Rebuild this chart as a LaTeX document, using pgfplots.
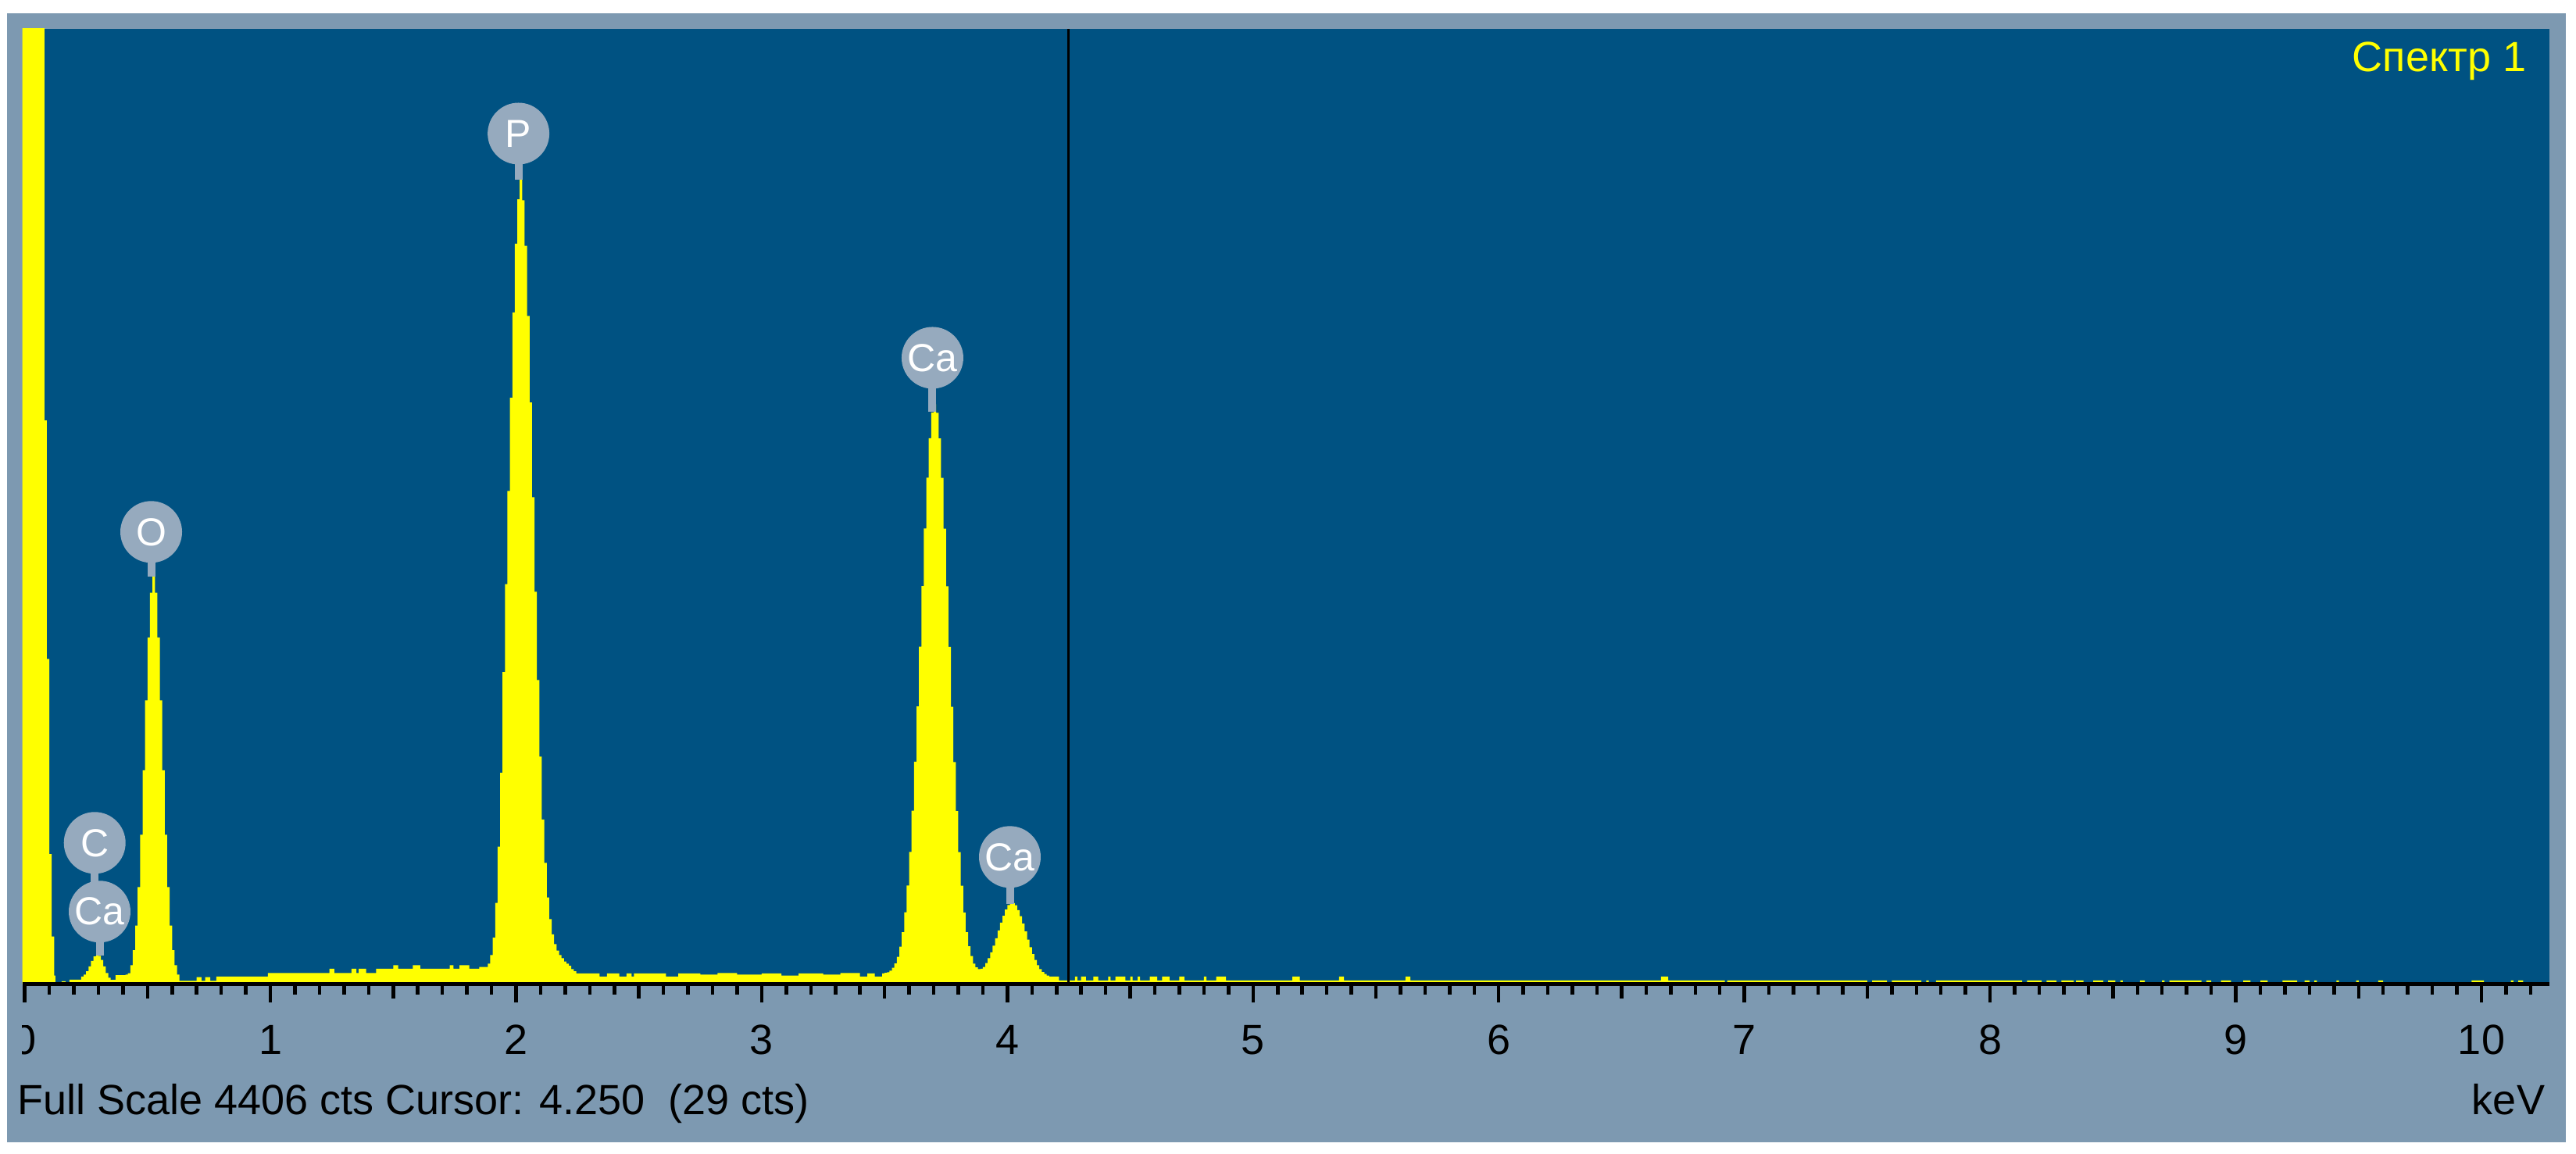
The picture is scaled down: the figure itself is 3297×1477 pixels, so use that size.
\documentclass[border=0pt]{standalone}
\usepackage{fontspec}
\setmainfont{Liberation Sans}
\usepackage{trimclip}
\usepackage{pgfplots}
\pgfplotsset{compat=1.18}

\definecolor{plotblue}{RGB}{0,82,130}
\definecolor{framegray}{RGB}{125,153,177}
\definecolor{labgray}{RGB}{150,170,190}
\definecolor{specyellow}{RGB}{255,255,0}

\tikzset{
  elab/.style={circle, fill=labgray, text=white, minimum size=15.8bp, inner sep=0pt,
               font=\fontsize{10bp}{12bp}\selectfont},
  stem/.style={labgray, line width=2bp},
}

% EDS spectrum: x = energy (keV), y = counts, bins start at x
\pgfplotstableread{
x y
-0.05 6000
0.08 2600
0.09 1500
0.10 600
0.11 220
0.12 40
0.125 0
0.15 14
0.166 0
0.182 21
0.23 36
0.24 45
0.25 60
0.26 82
0.27 108
0.28 128
0.29 133
0.30 131
0.31 112
0.32 82
0.33 52
0.34 30
0.35 20
0.37 42
0.41 45
0.42 51
0.43 88
0.44 157
0.45 271
0.46 448
0.47 690
0.48 987
0.49 1309
0.50 1599
0.51 1806
0.52 1880
0.53 1806
0.54 1599
0.55 1309
0.56 987
0.57 690
0.58 448
0.59 271
0.60 157
0.61 88
0.62 45
0.63 16
0.70 33
0.72 16
0.735 33
0.755 16
0.78 36
0.99 52
1.24 72
1.26 52
1.33 72
1.35 52
1.36 72
1.39 52
1.43 72
1.50 88
1.52 72
1.58 88
1.61 72
1.73 88
1.745 72
1.77 88
1.81 72
1.85 80
1.875 80
1.885 95
1.895 135
1.905 215
1.915 375
1.925 635
1.935 975
1.945 1440
1.955 1845
1.965 2275
1.975 2705
1.985 3098
1.995 3415
2.005 3620
2.015 3710
2.025 3615
2.035 3405
2.045 3082
2.055 2683
2.065 2246
2.075 1810
2.085 1403
2.095 1050
2.105 760
2.115 560
2.125 400
2.135 300
2.145 230
2.155 185
2.165 155
2.175 135
2.185 120
2.195 105
2.205 95
2.215 85
2.225 70
2.235 60
2.245 50
2.34 36
2.37 50
2.42 36
2.45 50
2.47 36
2.48 50
2.61 36
2.66 50
2.75 45
2.82 52
2.90 45
3.00 50
3.08 40
3.15 50
3.25 45
3.32 52
3.40 36
3.43 50
3.46 36
3.49 50
3.50 53
3.51 55
3.52 63
3.53 76
3.54 96
3.55 127
3.56 173
3.57 240
3.58 332
3.59 455
3.60 610
3.61 800
3.62 1026
3.63 1281
3.64 1557
3.65 1836
3.66 2102
3.67 2336
3.68 2518
3.69 2636
3.70 2675
3.71 2635
3.72 2517
3.73 2335
3.74 2101
3.75 1835
3.76 1556
3.77 1280
3.78 1025
3.79 799
3.80 609
3.81 454
3.82 331
3.83 240
3.84 175
3.85 130
3.86 95
3.87 78
3.88 70
3.89 72
3.90 80
3.91 98
3.92 120
3.93 147
3.94 178
3.95 212
3.96 248
3.97 284
3.98 316
3.99 345
4.00 365
4.01 375
4.02 374
4.03 364
4.04 342
4.05 314
4.06 280
4.07 244
4.08 206
4.09 171
4.10 139
4.11 112
4.12 88
4.13 70
4.14 56
4.15 47
4.16 40
4.17 36
4.21 18
4.275 36
4.285 18
4.30 36
4.32 18
4.35 36
4.37 18
4.41 36
4.42 18
4.44 36
4.48 18
4.50 36
4.51 18
4.53 36
4.54 18
4.58 36
4.61 18
4.63 36
4.66 18
4.70 36
4.72 18
4.80 36
4.81 18
4.85 36
4.89 18
5.16 36
5.19 18
5.35 36
5.37 18
5.62 36
5.64 18
6.66 36
6.69 18
6.92 0
6.93 18
7.50 0
7.52 18
7.58 0
7.60 18
7.72 0
7.74 18
7.75 0
7.78 18
8.13 0
8.15 18
8.21 0
8.23 18
8.27 0
8.29 18
8.34 0
8.35 18
8.38 0
8.42 18
8.46 0
8.48 18
8.51 0
8.53 18
8.54 0
8.61 18
8.63 0
8.70 18
8.71 0
8.73 18
8.86 0
8.88 18
8.90 0
8.94 18
8.98 0
9.03 18
9.06 0
9.10 18
9.13 0
9.19 18
9.25 0
9.28 18
9.30 0
9.32 18
9.33 0
9.41 18
9.42 0
9.49 18
9.50 0
9.58 18
9.60 0
9.96 18
10.01 0
10.12 18
10.13 0
10.15 18
10.17 0
10.30 0
}\spectrum

\newcommand{\zerolab}{\makebox[6bp][r]{\clipbox{2.4bp 0pt 0pt 0pt}{0}}}

\begin{document}
\begin{tikzpicture}
% 1 px of the reference = 0.2bp, origin at the lower left corner of the plot area
\begin{scope}[x=0.2bp,y=0.2bp]
  \path[use as bounding box, fill=white] (-28,-217) rectangle (3269,1260);
  \fill[framegray] (-20,-202) rectangle (3256,1243);
\end{scope}

\begin{axis}[
    at={(0,0)}, anchor=south west,
    scale only axis,
    width=647bp, height=244.6bp,
    xmin=-0.0095, xmax=10.277,
    ymin=0, ymax=4406,
    axis background/.style={fill=plotblue},
    axis line style={draw=none},
    clip mode=individual,
    ytick=\empty,
    xtick={0,1,2,3,4,5,6,7,8,9,10},
    xticklabels={\zerolab,1,2,3,4,5,6,7,8,9,10},
    minor xtick={0,0.1,...,10.25},
    extra x ticks={0.5,1.5,...,9.5},
    extra x tick labels={},
    extra x tick style={major tick length=3.6bp},
    xtick pos=left,
    tick align=outside,
    major tick length=4.6bp,
    minor tick length=2.6bp,
    tick style={black, line width=0.9bp},
    xticklabel style={font=\fontsize{10.8bp}{13bp}\selectfont, text=black, anchor=base, yshift=-13.4bp},
]
  \addplot[const plot, fill=specyellow, draw=none] table[x=x, y=y] {\spectrum} \closedcycle;

  % cursor at 4.250 keV
  \addplot[black, line width=0.6bp] coordinates {(4.25,0) (4.25,4406)};

  \draw[black, line width=1bp] (rel axis cs:0,0) -- (rel axis cs:1,0);

  % peak tops and label centres
  \coordinate (caLp) at (axis cs:0.305,133);
  \coordinate (caL)  at (axis cs:0.305,335);
  \coordinate (cK)   at (axis cs:0.285,652);
  \coordinate (oKp)  at (axis cs:0.515,1880);
  \coordinate (oK)   at (axis cs:0.515,2086);
  \coordinate (pKp)  at (axis cs:2.01,3709);
  \coordinate (pK)   at (axis cs:2.01,3923);
  \coordinate (caAp) at (axis cs:3.695,2640);
  \coordinate (caA)  at (axis cs:3.695,2889);
  \coordinate (caBp) at (axis cs:4.01,370);
  \coordinate (caB)  at (axis cs:4.01,587);
\end{axis}

% peak labels
\draw[stem] (caLp) -- (caL);
\draw[stem] (cK |- caL) -- (cK);
\node[elab] at (cK) {C};
\node[elab] at (caL) {Ca};
\draw[stem] (oKp) -- (oK);
\node[elab] at (oK) {O};
\draw[stem] (pKp) -- (pK);
\node[elab] at (pK) {P};
\draw[stem] (caAp) -- (caA);
\node[elab] at (caA) {Ca};
\draw[stem] (caBp) -- (caB);
\node[elab] at (caB) {Ca};

\begin{scope}[x=0.2bp,y=0.2bp, font=\fontsize{10.8bp}{13bp}\selectfont]
  \node[anchor=base west, inner sep=0] at (-7,-167) {Full Scale 4406 cts Cursor: 4.250\ \ (29 cts)};
  \node[anchor=base east, inner sep=0] at (3230,-167) {keV};
  \node[anchor=base east, inner sep=0, text=specyellow] at (3206,1168) {Спектр 1};
\end{scope}
\end{tikzpicture}
\end{document}
